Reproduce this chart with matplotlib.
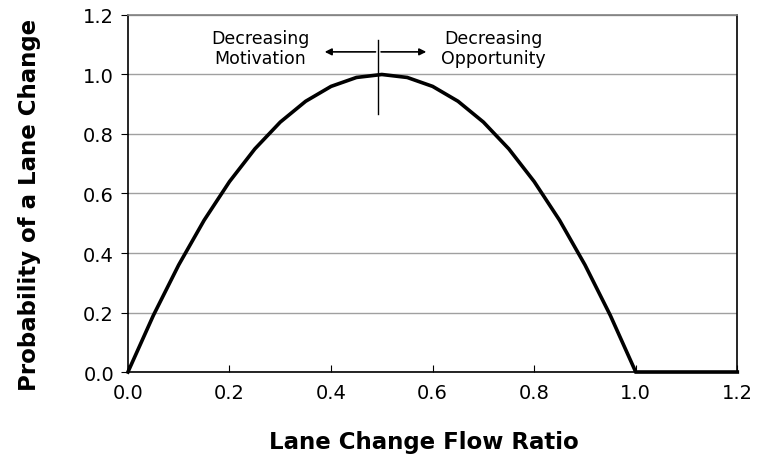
import matplotlib
matplotlib.use("Agg")
import matplotlib.pyplot as plt

# lane change flow ratio vs probability
ratio = [0.0, 0.05, 0.1, 0.15, 0.2, 0.25, 0.3, 0.35, 0.4, 0.45, 0.5,
         0.55, 0.6, 0.65, 0.7, 0.75, 0.8, 0.85, 0.9, 0.95, 1.0,
         1.05, 1.1, 1.15, 1.2]
prob = [0.0, 0.19, 0.36, 0.51, 0.64, 0.75, 0.84, 0.91, 0.96, 0.99, 1.0,
        0.99, 0.96, 0.91, 0.84, 0.75, 0.64, 0.51, 0.36, 0.19, 0.0,
        0.0, 0.0, 0.0, 0.0]
xticks = [0.0, 0.2, 0.4, 0.6, 0.8, 1.0, 1.2]
yticks = [0.0, 0.2, 0.4, 0.6, 0.8, 1.0, 1.2]

plt.rcParams['font.family'] = ['DejaVu Sans']

fig = plt.figure(figsize=(7.57, 4.77), dpi=100)
ax = fig.add_axes([0.169, 0.218, 0.805, 0.7485])

ax.plot(ratio, prob, color='black', lw=2.6, solid_joinstyle='miter', clip_on=False, zorder=3)

ax.set_xlim(0, 1.2)
ax.set_ylim(0, 1.2)
ax.set_xticks(xticks)
ax.set_yticks(yticks)
ax.set_xticklabels(['%.1f' % v for v in xticks])
ax.set_yticklabels(['%.1f' % v for v in yticks])
ax.grid(axis='y', color='#a0a0a0', lw=1)
ax.set_axisbelow(True)
for s in ax.spines.values():
    s.set_color('black')
    s.set_linewidth(1.2)
ax.spines['top'].set_color('#808080')
ax.tick_params(axis='x', direction='in', length=5, labelsize=14, pad=8)
ax.tick_params(axis='y', direction='out', length=5, labelsize=14, pad=5)

ax.set_xlabel('Lane Change Flow Ratio', fontsize=16.5, fontweight='bold', va='center')
ax.xaxis.set_label_coords(0.485, -0.196)
ax.set_ylabel('Probability of a Lane Change', fontsize=16.5, fontweight='bold', va='center')
ax.yaxis.set_label_coords(-0.161, 0.47)

# annotation: threshold line with arrows
ax.plot([0.493, 0.493], [0.867, 1.116], color='black', lw=1)
ax.annotate('', xy=(0.382, 1.076), xytext=(0.493, 1.076),
            arrowprops=dict(arrowstyle='-|>', color='black', lw=1.2, mutation_scale=10))
ax.annotate('', xy=(0.593, 1.076), xytext=(0.493, 1.076),
            arrowprops=dict(arrowstyle='-|>', color='black', lw=1.2, mutation_scale=10))
ax.text(0.26, 1.089, 'Decreasing\nMotivation', ha='center', va='center', fontsize=12.5, linespacing=1.1)
ax.text(0.72, 1.089, 'Decreasing\nOpportunity', ha='center', va='center', fontsize=12.5, linespacing=1.1)

fig.savefig('out.png', dpi=100)
